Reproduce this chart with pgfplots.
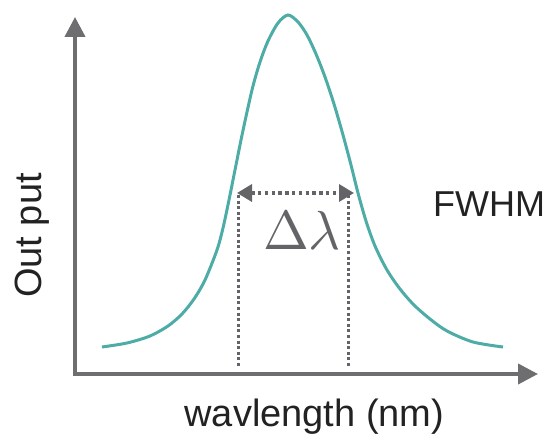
\documentclass[border=0pt]{standalone}
\usepackage{pgfplots}
\pgfplotsset{compat=1.18}
\usetikzlibrary{arrows.meta}
\usepackage{fontspec}
\setmainfont{Liberation Sans}

\definecolor{peakteal}{RGB}{78,172,166}
\definecolor{axisgray}{RGB}{110,110,112}
\definecolor{dotgray}{RGB}{100,100,104}
\definecolor{labelink}{RGB}{34,34,34}

\begin{document}
\begin{tikzpicture}
\begin{axis}[
  scale only axis,
  width=463pt, height=357pt,
  xmin=75, xmax=538, ymin=62, ymax=419,
  axis lines=left,
  axis line style={line width=4pt, draw=axisgray, line cap=rect,
    -{Triangle[length=20pt,width=20pt]}},
  xtick=\empty, ytick=\empty,
  clip=false,
  xlabel={wavlength (nm)},
  ylabel={Out put},
  xlabel style={at={(axis description cs:0.517,-0.1457)}, anchor=base,
    font=\fontsize{38}{44}\selectfont, text=labelink},
  ylabel style={at={(axis description cs:-0.0713,0.388)}, anchor=base,
    rotate=0, font=\fontsize{38}{44}\selectfont, text=labelink},
]
% page extent
\path (axis cs:0,0) rectangle (axis cs:549,436);

% emission line profile
\addplot[peakteal, line width=3pt, smooth, tension=0.5] coordinates {
  (102,89) (127,93) (150,100) (168,110) (182,122) (194,137) (205,156)
  (217,186) (223,208) (229,236) (235,266) (241,296) (247,324) (253,350)
  (260,374) (268,395) (278,413) (288,421)
  (298,414) (307,401) (316,382) (325,359) (334,332) (343,301) (351,271)
  (358,243) (366,215) (375,190) (387,166) (400,147) (414,131) (430,117)
  (447,105) (473,94) (503,89)
};

% half-maximum markers
\addplot[dotgray, line width=3pt, dash pattern=on 3pt off 2.6pt]
  coordinates {(238,241) (238,68)};
\addplot[dotgray, line width=3pt, dash pattern=on 3pt off 2.6pt]
  coordinates {(348,241) (348,68)};
\addplot[dotgray, line width=3.4pt, dash pattern=on 3.4pt off 3.4pt,
  {Triangle[length=15pt,width=17pt]}-{Triangle[length=15pt,width=17pt]}]
  coordinates {(237,243) (354,243)};

\node[anchor=base, text=dotgray, inner sep=0pt]
  at (axis cs:302,186) {\scalebox{5.5}{$\Delta\lambda$}};
\node[anchor=base west, text=labelink, font=\fontsize{36}{42}\selectfont, inner sep=0pt]
  at (axis cs:433,219) {FWHM};
\end{axis}
\end{tikzpicture}
\end{document}
